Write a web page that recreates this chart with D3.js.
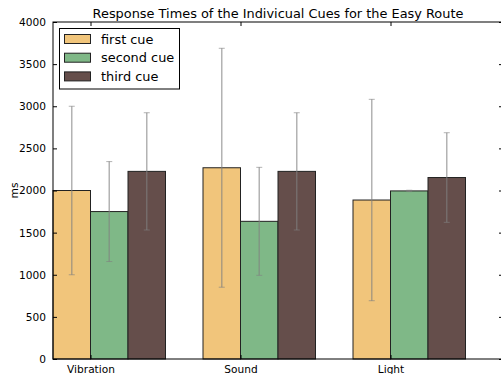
<!DOCTYPE html>
<html>
<head>
<meta charset="utf-8">
<script src="https://cdn.jsdelivr.net/npm/d3@7"></script>
<style>
  html, body { margin: 0; padding: 0; background: #fff; }
  svg { display: block; font-family: "DejaVu Sans", sans-serif; }
</style>
</head>
<body>
<svg id="chart" width="501" height="374"></svg>
<script>
const categories = ["Vibration", "Sound", "Light"];
const seriesNames = ["first cue", "second cue", "third cue"];
const firstCue = [2000, 2270, 1887];
const secondCue = [1750, 1634, 1995];
const thirdCue = [2227, 2227, 2154];
const firstErr = [1000, 1418, 1195];
const secondErr = [593, 641, 8];
const thirdErr = [696, 696, 532];
const yTicks = [0, 500, 1000, 1500, 2000, 2500, 3000, 3500, 4000];
const colors = ["#f1c57b", "#7fb887", "#654e4b"];

const seriesValues = [firstCue, secondCue, thirdCue];
const seriesErrs = [firstErr, secondErr, thirdErr];
const barWidth = 0.25;

const svg = d3.select("#chart");
const mLeft = 53, mRight = 503, mTop = 22, mBottom = 359;
const x = d3.scaleLinear().domain([0, 3]).range([mLeft, mRight]);
const y = d3.scaleLinear().domain([0, 4000]).range([mBottom, mTop]);

// bars
const bars = [];
seriesValues.forEach((vals, s) => {
  vals.forEach((v, i) => {
    bars.push({ s, i, v, e: seriesErrs[s][i], x0: i + s * barWidth });
  });
});

svg.append("g").selectAll("rect").data(bars).join("rect")
  .attr("x", d => x(d.x0))
  .attr("y", d => y(d.v))
  .attr("width", d => x(d.x0 + barWidth) - x(d.x0))
  .attr("height", d => y(0) - y(d.v))
  .attr("fill", d => colors[d.s])
  .attr("stroke", "#222")
  .attr("stroke-width", 1);

// error bars
const eg = svg.append("g").attr("stroke", "#808080").attr("stroke-opacity", 0.6).attr("stroke-width", 1.5);
bars.forEach(d => {
  const cx = x(d.x0 + barWidth / 2);
  eg.append("line").attr("x1", cx).attr("x2", cx).attr("y1", y(d.v - d.e)).attr("y2", y(d.v + d.e));
  [d.v - d.e, d.v + d.e].forEach(val => {
    eg.append("line").attr("x1", cx - 3).attr("x2", cx + 3).attr("y1", y(val)).attr("y2", y(val)).attr("stroke-width", 1);
  });
});

// axes frame
svg.append("rect").attr("x", mLeft).attr("y", mTop).attr("width", mRight - mLeft).attr("height", mBottom - mTop)
  .attr("fill", "none").attr("stroke", "#000").attr("stroke-width", 1);

// y ticks
const yAxis = d3.axisLeft(y).tickValues(yTicks).tickSizeInner(-4).tickSizeOuter(0).tickPadding(7).tickFormat(d3.format("d"));
const gy = svg.append("g").attr("transform", `translate(${mLeft},0)`).call(yAxis);
gy.select(".domain").remove();
gy.selectAll("text").attr("font-size", 10.6).attr("font-family", "DejaVu Sans").attr("fill", "#000");
gy.selectAll("line").attr("stroke", "#000");
const gyr = svg.append("g").attr("transform", `translate(${mRight},0)`).call(d3.axisRight(y).tickValues(yTicks).tickSizeInner(-4).tickSizeOuter(0).tickFormat(""));
gyr.select(".domain").remove();
gyr.selectAll("line").attr("stroke", "#000");

// x ticks
const xt = categories.map((c, i) => i + barWidth);
const xAxis = d3.axisBottom(x).tickValues(xt).tickSizeInner(-4).tickSizeOuter(0).tickPadding(6).tickFormat((d, i) => categories[i]);
const gx = svg.append("g").attr("transform", `translate(0,${mBottom})`).call(xAxis);
gx.select(".domain").remove();
gx.selectAll("text").attr("font-size", 10.6).attr("font-family", "DejaVu Sans").attr("fill", "#000");
gx.selectAll("line").attr("stroke", "#000");
const gxt = svg.append("g").attr("transform", `translate(0,${mTop})`).call(d3.axisTop(x).tickValues(xt).tickSizeInner(-4).tickSizeOuter(0).tickFormat(""));
gxt.select(".domain").remove();
gxt.selectAll("line").attr("stroke", "#000");

// title
svg.append("text").attr("x", (mLeft + mRight) / 2).attr("y", 17.5).attr("text-anchor", "middle")
  .attr("font-size", 12.9).text("Response Times of the Indivicual Cues for the Easy Route");

// y label
svg.append("text").attr("transform", `translate(18,${(mTop + mBottom) / 2}) rotate(-90)`)
  .attr("text-anchor", "middle").attr("font-size", 10.6).text("ms");

// legend
const lg = svg.append("g");
lg.append("rect").attr("x", 59.5).attr("y", 28.5).attr("width", 120).attr("height", 60.5)
  .attr("fill", "#fff").attr("stroke", "#000").attr("stroke-width", 1);
seriesNames.forEach((n, k) => {
  const cy = 39 + k * 18.7;
  lg.append("rect").attr("x", 64.5).attr("y", cy - 4.5).attr("width", 26).attr("height", 9)
    .attr("fill", colors[k]).attr("stroke", "#222").attr("stroke-width", 1);
  lg.append("text").attr("x", 101).attr("y", cy + 4.6).attr("font-size", 12.9).text(n);
});
</script>
</body>
</html>
